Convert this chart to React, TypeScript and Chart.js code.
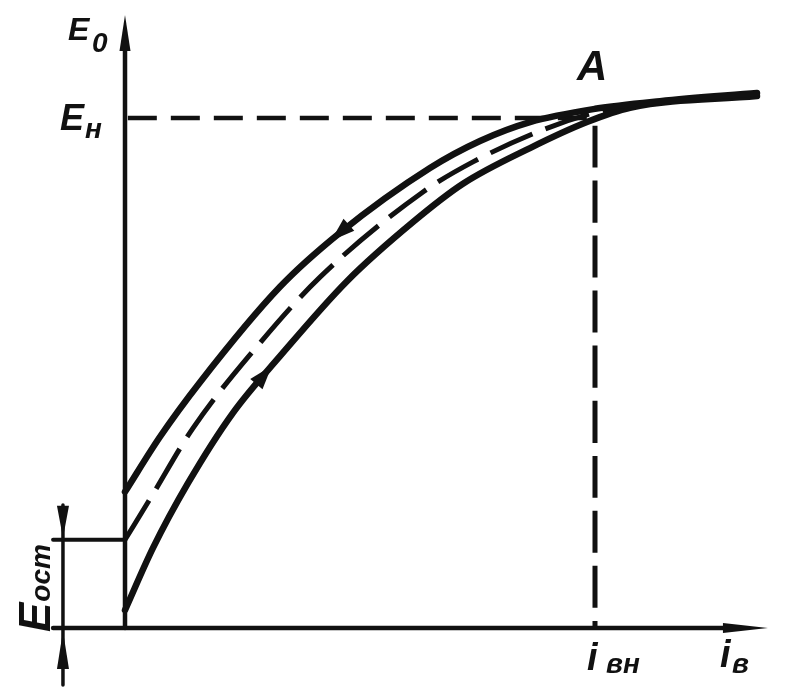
import React, { useEffect, useRef } from "react";
import { Chart, registerables } from "chart.js";

Chart.register(...registerables);

// Field current i_в in % of i_вн, EMF E0 in % of E_н
const UPPER_X = [0, 7.45, 15.96, 32.98, 45.74, 64.89, 75.53, 86.17, 100, 113.83, 134.47];
const UPPER_Y = [26.7, 37.5, 48.2, 66.9, 77.5, 90.2, 95.5, 99.2, 101.8, 103.3, 104.9];
const LOWER_X = [0, 5.96, 13.4, 22.98, 32.98, 47.23, 61.28, 71.91, 86.17, 98.3, 107.45, 134.47];
const LOWER_Y = [3.5, 15.7, 28.4, 42.2, 53.3, 68.0, 79.6, 87.1, 94.1, 99.2, 102.0, 104.3];
const MID_X = [0, 5.32, 14.47, 28.72, 41.49, 63.4, 74.04, 87.87, 98.94, 107.45, 134.47];
const MID_Y = [17.3, 25.3, 39.2, 55.9, 68.8, 85.5, 91.4, 97.3, 100.8, 102.5, 104.6];

const E_N = 100; // rated EMF
const I_VN = 100; // rated field current
const E_OST = 17.3; // residual EMF

// axes extents (data units)
const X_MIN = -26.596;
const X_MAX = 140.851;
const Y_MIN = -12.549;
const Y_MAX = 123.137;
const X_AXIS_START = -15.3;
const X_AXIS_TIP = 136.8;
const Y_AXIS_TIP = 120.2;
const DIM_X = -13.2;
const DIM_TOP = 24.1;
const DIM_BOTTOM = -11.2;

// arrow marks on the branches: [at x, at y, toward x, toward y]
const UPPER_ARROW = [45.74, 77.5, 32.98, 66.9];
const LOWER_ARROW = [29.6, 49.6, 32.98, 53.3];

const INK = "#111";
const FONT = '"Liberation Sans", Arial, sans-serif';

export default function App() {
  const ref = useRef<HTMLCanvasElement>(null);

  useEffect(() => {
    const canvas = ref.current!;
    const pts = (xs: number[], ys: number[]) => xs.map((x, i) => ({ x, y: ys[i] }));
    const ds = (data: any[], width: number, dash?: number[]) => ({
      data,
      showLine: true,
      borderColor: INK,
      backgroundColor: INK,
      borderWidth: width,
      borderDash: dash || [],
      pointRadius: 0,
      pointHoverRadius: 0,
      fill: false,
      cubicInterpolationMode: "monotone",
      borderCapStyle: dash ? "butt" : "round",
      borderJoinStyle: "round",
    });

    const decor = {
      id: "decor",
      afterDatasetsDraw(chart: any) {
        const { ctx, scales } = chart;
        const X = (v: number) => scales.x.getPixelForValue(v);
        const Y = (v: number) => scales.y.getPixelForValue(v);
        ctx.save();
        ctx.fillStyle = INK;
        const tri = (tx: number, ty: number, dx: number, dy: number, len: number, half: number) => {
          const bx = tx - dx * len;
          const by = ty - dy * len;
          const nx = -dy;
          const ny = dx;
          ctx.beginPath();
          ctx.moveTo(tx, ty);
          ctx.lineTo(bx + nx * half, by + ny * half);
          ctx.lineTo(bx - nx * half, by - ny * half);
          ctx.closePath();
          ctx.fill();
        };
        // axis arrows
        tri(X(0), Y(Y_AXIS_TIP), 0, -1, 36, 5.5);
        tri(X(X_AXIS_TIP), Y(0), 1, 0, 45, 5);
        // dimension arrows for E_ост
        tri(X(DIM_X), Y(E_OST) - 2, 0, 1, 32, 6);
        tri(X(DIM_X), Y(0) + 3, 0, -1, 38, 6);
        // branch direction arrows
        const branch = (a: number[]) => {
          const x1 = X(a[0]), y1 = Y(a[1]), x2 = X(a[2]), y2 = Y(a[3]);
          const d = Math.hypot(x2 - x1, y2 - y1);
          const ux = (x2 - x1) / d, uy = (y2 - y1) / d;
          tri(x1 + ux * 12, y1 + uy * 12, ux, uy, 24, 8);
        };
        branch(UPPER_ARROW);
        branch(LOWER_ARROW);

        // labels
        ctx.textBaseline = "alphabetic";
        ctx.textAlign = "left";
        const txt = (s: string, x: number, y: number, size: number) => {
          ctx.font = `bold italic ${size}px ${FONT}`;
          ctx.fillText(s, x, y);
        };
        const ax = X(0);
        const tipY = Y(Y_AXIS_TIP);
        txt("E", ax - 57, tipY + 25, 32);
        txt("0", ax - 33, tipY + 37, 28);
        txt("E", ax - 65, Y(E_N) + 12, 36);
        txt("н", ax - 40, Y(E_N) + 20, 28);
        txt("A", X(I_VN) - 18, Y(E_N) - 38, 42);
        txt("i", X(I_VN) - 8, Y(0) + 42, 38);
        txt("вн", X(I_VN) + 11, Y(0) + 45, 28);
        txt("i", X(127) - 2, Y(0) + 39, 38);
        txt("в", X(127) + 10, Y(0) + 45, 28);

        // E_ост rotated
        ctx.save();
        ctx.translate(X(DIM_X) - 13, Y(0) + 4);
        ctx.rotate(-Math.PI / 2);
        ctx.font = `bold italic 44px ${FONT}`;
        ctx.fillText("E", 0, 0);
        const w = ctx.measureText("E").width;
        ctx.font = `bold italic 28px ${FONT}`;
        ctx.fillText("ост", w + 1, 0);
        ctx.restore();

        ctx.restore();
      },
    };

    const chart = new Chart(canvas, {
      type: "scatter",
      data: {
        datasets: [
          ds(pts(UPPER_X, UPPER_Y), 6.5),
          ds(pts(LOWER_X, LOWER_Y), 6.5),
          ds(pts(MID_X, MID_Y), 5, [46, 14]),
          ds([{ x: 0.6, y: E_N }, { x: I_VN, y: E_N }], 4.5, [29, 14]),
          ds([{ x: I_VN, y: 98.5 }, { x: I_VN, y: 0 }], 5, [42, 13]),
          ds([{ x: X_AXIS_START, y: 0 }, { x: X_AXIS_TIP - 8, y: 0 }], 4.5),
          ds([{ x: 0, y: 0 }, { x: 0, y: Y_AXIS_TIP - 6 }], 4.5),
          ds([{ x: X_AXIS_START, y: E_OST }, { x: 0, y: E_OST }], 4),
          ds([{ x: DIM_X, y: DIM_TOP }, { x: DIM_X, y: DIM_BOTTOM }], 3.5),
        ] as any,
      },
      options: {
        responsive: false,
        devicePixelRatio: 1,
        animation: false,
        layout: { padding: 0 },
        events: [],
        plugins: { legend: { display: false }, tooltip: { enabled: false } },
        scales: {
          x: { type: "linear", display: false, min: X_MIN, max: X_MAX },
          y: { type: "linear", display: false, min: Y_MIN, max: Y_MAX },
        },
      } as any,
      plugins: [decor],
    });
    return () => chart.destroy();
  }, []);

  return (
    <div style={{ position: "fixed", left: 0, top: 0, width: 787, height: 692, background: "#fff" }}>
      <canvas ref={ref} width={787} height={692} style={{ display: "block", width: 787, height: 692 }} />
    </div>
  );
}
